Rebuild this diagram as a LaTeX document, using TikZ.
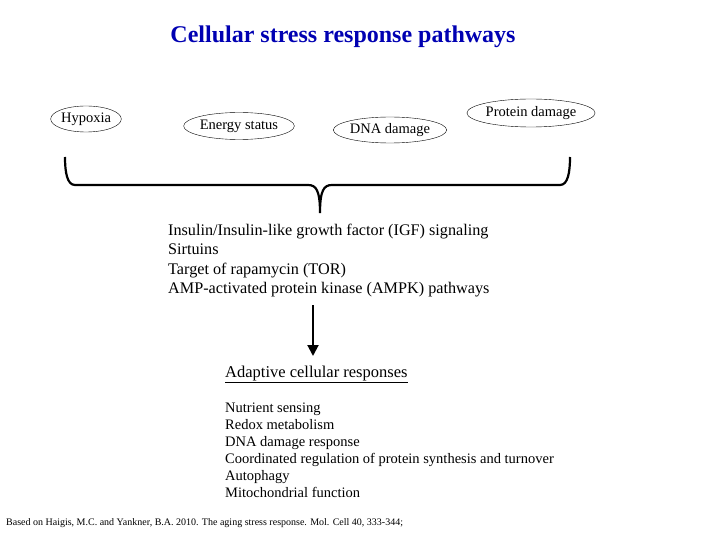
\documentclass[tikz,border=0pt]{standalone}
\usepackage{fontspec}
\setmainfont{Liberation Serif}
\usetikzlibrary{shapes.geometric,arrows.meta}
\begin{document}
\begin{tikzpicture}[x=1pt,y=-1pt,
  ell/.style={ellipse,draw,thin,inner sep=0pt,minimum height=26pt,font=\fontsize{14.5}{16}\selectfont},
  txt/.style={anchor=north west,align=left,inner sep=0pt,font=\fontsize{16.2}{19.3}\selectfont}]
\useasboundingbox (0,0) rectangle (720,540);
\node[font=\fontsize{24}{27}\selectfont\bfseries,text=blue!70!black] (title) at (343,37) {Cellular stress response pathways};
\node[ell,minimum width=68pt] (hyp) at (86,119) {Hypoxia};
\node[ell,minimum width=96pt,minimum height=27pt] (en) at (239,126) {Energy status};
\node[ell,minimum width=90pt] (dna) at (390,130) {DNA damage};
\node[ell,minimum width=100pt,minimum height=28pt] (pro) at (531,113) {Protein damage};
\coordinate (bl) at (65,157);
\coordinate (br) at (570,157);
\coordinate (tip) at (320,213);
\draw[line width=2.2pt] (bl) .. controls (65,172) and (67,185) .. (75,185) -- (308,185)
  .. controls (316,185) and (320,190) .. (tip)
  .. controls (320,190) and (324,185) .. (332,185) -- (560,185)
  .. controls (568,185) and (570,172) .. (br);
\node[txt] (list) at (168,224) {Insulin/Insulin-like growth factor (IGF) signaling\\Sirtuins\\Target of rapamycin (TOR)\\AMP-activated protein kinase (AMPK) pathways};
\node[txt,font=\fontsize{16.5}{19}\selectfont] (ad) at (225,366) {\underline{Adaptive cellular responses}};
\coordinate (a1) at (313,305);
\draw[line width=2pt,-{Triangle[length=11pt,width=11pt]}] (a1) -- (313,356);
\node[txt,font=\fontsize{14.5}{16.9}\selectfont] (resp) at (225,403) {Nutrient sensing\\Redox metabolism\\DNA damage response\\Coordinated regulation of protein synthesis and turnover\\Autophagy\\Mitochondrial function};
\node[txt,font=\fontsize{10}{11}\selectfont] (ref) at (6,518) {Based on Haigis, M.C. and Yankner, B.A. 2010. The aging stress response. Mol. Cell 40, 333-344;};
\end{tikzpicture}
\end{document}
